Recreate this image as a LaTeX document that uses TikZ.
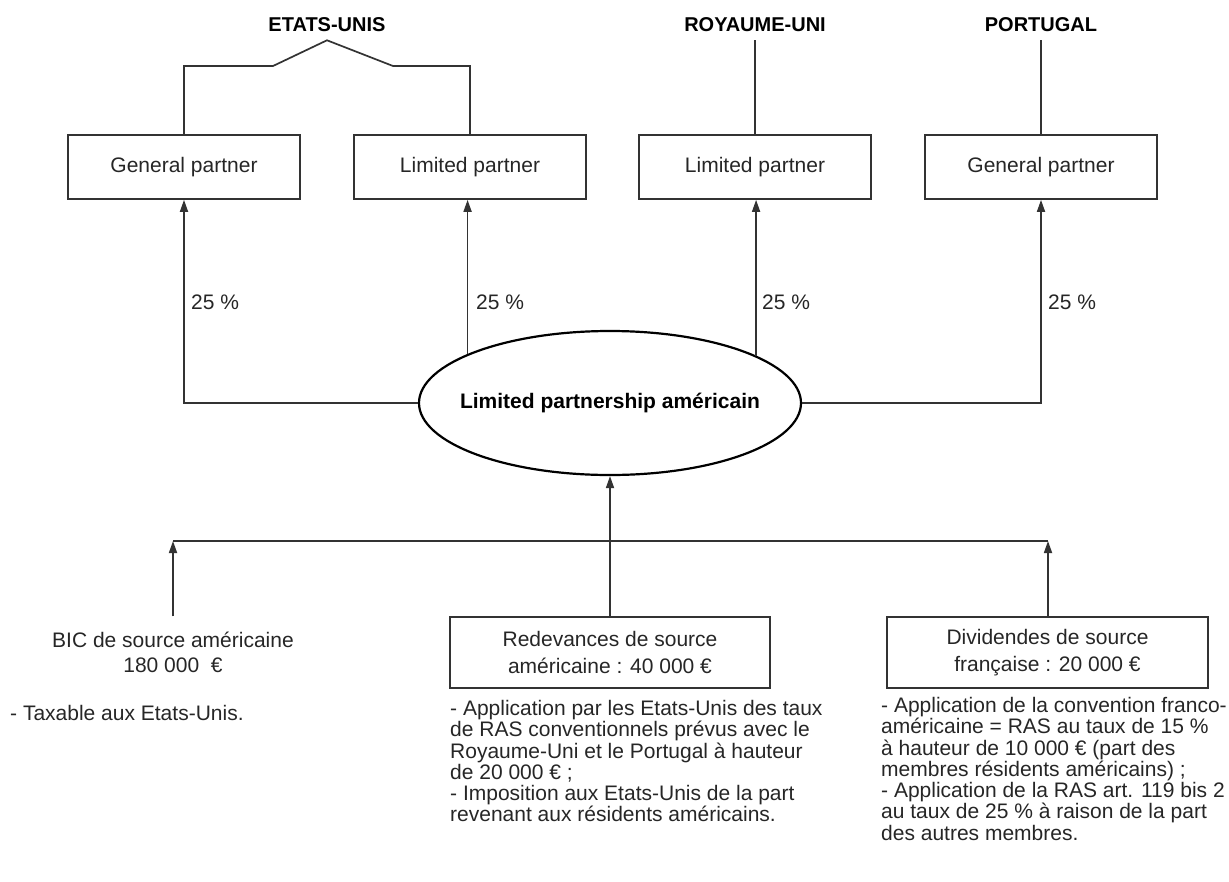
\documentclass[tikz,border=0pt]{standalone}
\usepackage{fontspec}
\setmainfont{Liberation Sans}
\usetikzlibrary{arrows.meta,shapes.geometric,calc}
\begin{document}
\begin{tikzpicture}[x=1pt,y=-1pt,
  line/.style={draw=black!80,line width=1.7pt},
  arr/.style={line,-{Triangle[length=12pt,width=8pt]}},
  txt/.style={font=\fontsize{21}{21.7}\selectfont,text=black!85},
  box/.style={txt,draw=black!80,line width=1.7pt,minimum width=232pt,minimum height=64pt,inner sep=0pt},
  country/.style={font=\bfseries\fontsize{20}{22}\selectfont,inner xsep=0pt,inner ysep=8pt},
  pct/.style={txt,anchor=west,inner sep=0pt},
  note/.style={txt,anchor=north west,inner sep=0pt,align=left,font=\fontsize{21}{21.3}\selectfont},
  src/.style={txt,draw=black!80,line width=1.7pt,minimum height=71pt,inner sep=0pt,align=center,font=\fontsize{21}{27.5}\selectfont}
]
\useasboundingbox (0,0) rectangle (1229,881);

% countries
\node[country] (us) at (327,25) {ETATS-UNIS};
\node[country] (ru) at (755,25) {ROYAUME-UNI};
\node[country] (pt) at (1041,25) {PORTUGAL};

% partner boxes
\node[box] (gp1) at (184,167) {General partner};
\node[box] (lp1) at (470,167) {Limited partner};
\node[box] (lp2) at (755,167) {Limited partner};
\node[box] (gp2) at (1041,167) {General partner};

% links countries - partners
\draw[line] (gp1.north) -- (gp1.north |- 0,66) -- (273,66) -- (us.south) -- (393,66) -- (lp1.north |- 0,66) -- (lp1.north);
\draw[line] (ru.south) -- (lp2.north);
\draw[line] (pt.south) -- (gp2.north);

% partnership
\node[draw=black,line width=2.2pt,ellipse,minimum width=382pt,minimum height=144pt,inner sep=0pt,
      font=\bfseries\fontsize{21}{22}\selectfont] (lp) at (610,403) {\makebox[0pt]{Limited partnership américain}};

% 25 % arrows
\draw[arr] (lp.west) -| (gp1.south);
\draw[arr] (lp.161.4) -- (lp.161.4 |- lp1.south);
\draw[arr] (lp.18.6) -- (lp.18.6 |- lp2.south);
\draw[arr] (lp.east) -| (gp2.south);

\node[pct] (p1) at (191,302) {25 \%};
\node[pct] (p2) at (476,302) {25 \%};
\node[pct] (p3) at (762,302) {25 \%};
\node[pct] (p4) at (1048,302) {25 \%};

% income sources
\node[txt,align=center,inner xsep=0pt,inner ysep=15pt,font=\fontsize{21}{25}\selectfont] (bic) at (173,652) {BIC de source américaine\\180 000~~€};
\node[src,minimum width=320pt] (red) at (610,652.5) {Redevances de source\\américaine : 40 000 €};
\node[src,minimum width=321pt] (div) at (1047.5,652.5) {Dividendes de source\\française : 20 000 €};

\coordinate (hl) at (173,541);
\coordinate (hr) at (1048,541);
\draw[line] (hl) -- (hr);
\draw[arr] (bic.north) -- (hl);
\draw[arr] (div.north -| hr) -- (hr);
\draw[arr] (red.north) -- (lp.south);

% notes
\node[txt,anchor=west,inner sep=0pt] (tax) at (10,713) {- Taxable aux Etats-Unis.};
\node[note] (nred) at (450,700) {- Application par les Etats-Unis des taux\\de RAS conventionnels prévus avec le\\Royaume-Uni et le Portugal à hauteur\\de 20 000 € ;\\- Imposition aux Etats-Unis de la part\\revenant aux résidents américains.};
\node[note] (ndiv) at (881,697) {- Application de la convention franco-\\américaine = RAS au taux de 15 \%\\à hauteur de 10 000 € (part des\\membres résidents américains) ;\\- Application de la RAS art. 119 bis 2\\au taux de 25 \% à raison de la part\\des autres membres.};
\end{tikzpicture}
\end{document}
